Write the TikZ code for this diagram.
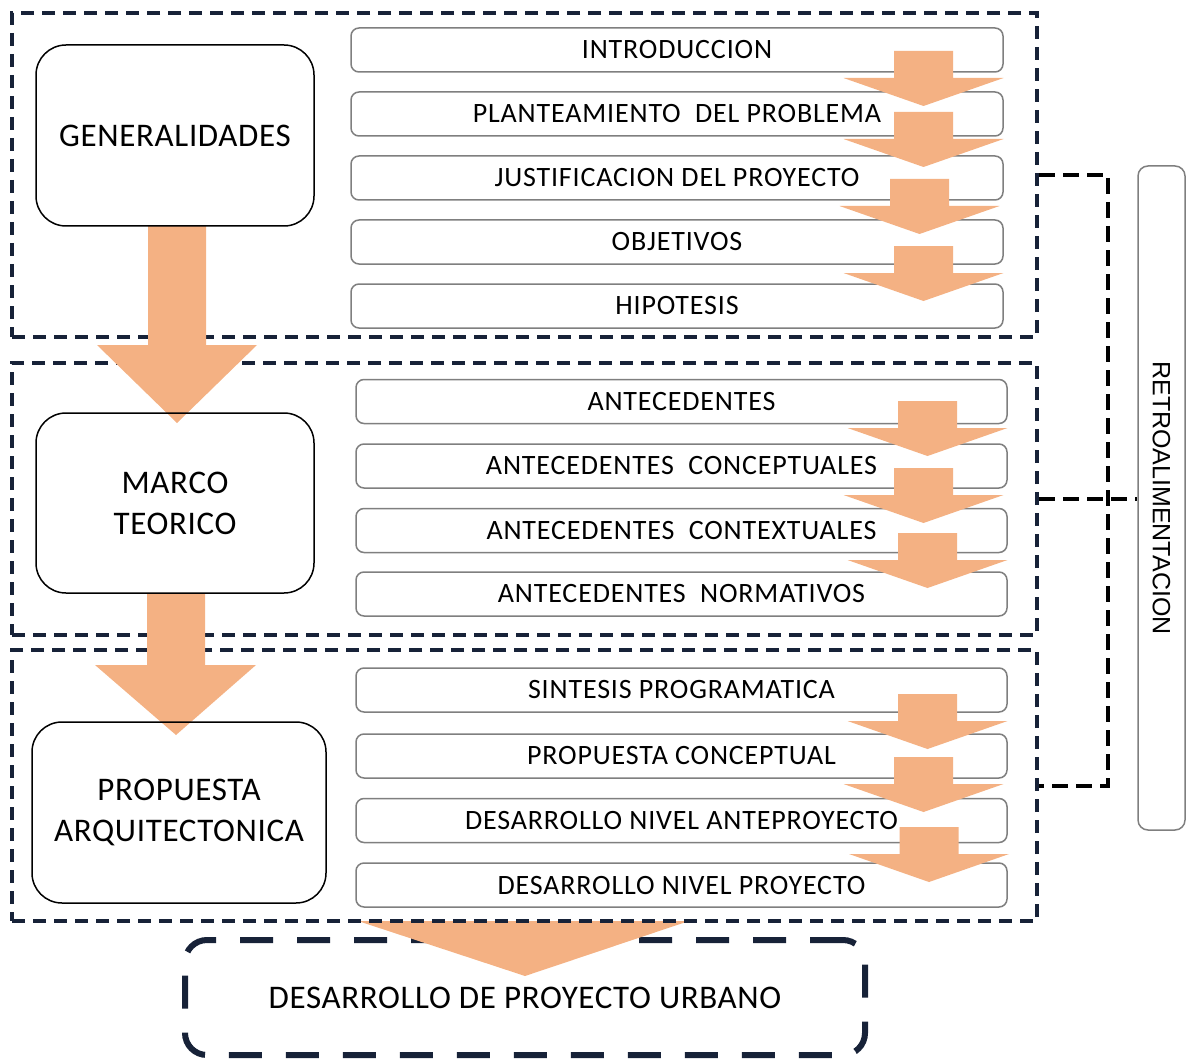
\documentclass[tikz,border=0pt]{standalone}
\usepackage{fontspec}
\setmainfont{Carlito}
\newfontfamily\arialf{Liberation Sans}
\newfontfamily\smallf[LetterSpace=3]{Carlito}
\newfontfamily\bigf[LetterSpace=2]{Carlito}
\definecolor{navy}{RGB}{23,34,56}
\definecolor{orangeA}{RGB}{244,177,131}
\definecolor{boxgray}{RGB}{127,127,127}
\newcommand{\blkarrowS}[2]{%
  \fill[orangeA] (#1-29.5,#2) -- (#1+29.5,#2) -- (#1+29.5,#2+27) -- (#1+80,#2+27)
    -- (#1,#2+55) -- (#1-80,#2+27) -- (#1-29.5,#2+27) -- cycle;}
\begin{document}
\begin{tikzpicture}[x=1pt,y=-1pt,
  grpbox/.style={draw=navy, line width=4pt, dash pattern=on 13pt off 8pt, inner sep=0pt},
  bigbox/.style={draw=black, line width=1.5pt, rounded corners=30pt,
    minimum width=278pt, minimum height=181pt, inner sep=0pt,
    font=\bigf\fontsize{33}{41}\selectfont, align=center},
  smallbox/.style={draw=boxgray, line width=1.5pt, rounded corners=8pt, fill=white,
    minimum width=652pt, minimum height=44pt, inner sep=0pt},
  stext/.style={font=\smallf\fontsize{28}{30}\selectfont, inner sep=0pt},
  fb/.style={draw=black, line width=4pt, dash pattern=on 16pt off 8pt},
  bigarrow/.style={fill=orangeA}]
\useasboundingbox (0,0) rectangle (1190,1059);

% bottom box and its arrow
\node[draw=navy, line width=6pt, dash pattern=on 33pt off 24pt, rounded corners=22pt,
  minimum width=680pt, minimum height=115pt, inner sep=0pt,
  font=\bigf\fontsize{33}{37}\selectfont] (urb) at (525,997.5) {DESARROLLO DE PROYECTO URBANO};
\fill[bigarrow] (358,921) -- (689,921) -- (525,976) -- cycle;

% group frames
\node[grpbox, minimum width=1025pt, minimum height=324pt] (g1) at (524.5,175) {};
\node[grpbox, minimum width=1025pt, minimum height=272pt] (g2) at (524.5,499) {};
\node[grpbox, minimum width=1025pt, minimum height=271pt] (g3) at (524.5,785.5) {};

% big arrows
\fill[bigarrow] (148,226) -- (206,226) -- (206,345) -- (257,345) -- (177,423) -- (97,345) -- (148,345) -- cycle;
\fill[bigarrow] (147,593) -- (205,593) -- (205,665) -- (256,665) -- (176,735) -- (95,665) -- (147,665) -- cycle;

% big boxes
\node[bigbox] (gen) at (175,135.5) {GENERALIDADES};
\node[bigbox, minimum height=180pt] (marco) at (175,503) {MARCO\\TEORICO};
\node[bigbox, minimum width=294pt] (prop) at (179,812.5) {PROPUESTA\\ARQUITECTONICA};

% small boxes
\node[smallbox] (intro) at (677,50) {};
\node[smallbox] (plan) at (677,114) {};
\node[smallbox] (just) at (677,178) {};
\node[smallbox] (obj) at (677,242) {};
\node[smallbox] (hip) at (677,306) {};
\node[smallbox, minimum width=651pt] (ant) at (681.5,401.5) {};
\node[smallbox, minimum width=651pt] (antc) at (681.5,466) {};
\node[smallbox, minimum width=651pt] (antx) at (681.5,530.5) {};
\node[smallbox, minimum width=651pt] (antn) at (681.5,594) {};
\node[smallbox, minimum width=651pt] (sint) at (681.5,690) {};
\node[smallbox, minimum width=651pt] (pcon) at (681.5,756) {};
\node[smallbox, minimum width=651pt] (dant) at (681.5,820.5) {};
\node[smallbox, minimum width=651pt] (dpro) at (681.5,885) {};

% small arrows
\blkarrowS{923.5}{51}
\blkarrowS{923.5}{112}
\blkarrowS{919.5}{179}
\blkarrowS{923.5}{246}
\blkarrowS{927.5}{401}
\blkarrowS{923.5}{468}
\blkarrowS{927.5}{533}
\blkarrowS{927.5}{694}
\blkarrowS{923.5}{757}
\blkarrowS{929}{827}

% texts of small boxes
\node[stext] at (intro) {INTRODUCCION};
\node[stext] at (plan) {PLANTEAMIENTO\ \ DEL PROBLEMA};
\node[stext] at (just) {JUSTIFICACION DEL PROYECTO};
\node[stext] at (obj) {OBJETIVOS};
\node[stext] at (hip) {HIPOTESIS};
\node[stext] at (ant) {ANTECEDENTES};
\node[stext] at (antc) {ANTECEDENTES\ \ CONCEPTUALES};
\node[stext] at (antx) {ANTECEDENTES\ \ CONTEXTUALES};
\node[stext] at (antn) {ANTECEDENTES\ \ NORMATIVOS};
\node[stext] at (sint) {SINTESIS PROGRAMATICA};
\node[stext] at (pcon) {PROPUESTA CONCEPTUAL};
\node[stext] at (dant) {DESARROLLO NIVEL ANTEPROYECTO};
\node[stext] at (dpro) {DESARROLLO NIVEL PROYECTO};

% feedback
\node[draw=boxgray, line width=1.5pt, rounded corners=10pt, minimum width=47pt,
  minimum height=664pt, inner sep=0pt, font=\arialf\fontsize{25}{28}\selectfont]
  (retro) at (1161.5,498) {\rotatebox{-90}{RETROALIMENTACION}};
\coordinate (fbx) at (1108,0);
\draw[fb] (g1.east) -- (g1.east -| fbx) -- (g3.east -| fbx) -- (g3.east);
\draw[fb] (g2.east) -- (g2.east -| retro.west);
\end{tikzpicture}
\end{document}
